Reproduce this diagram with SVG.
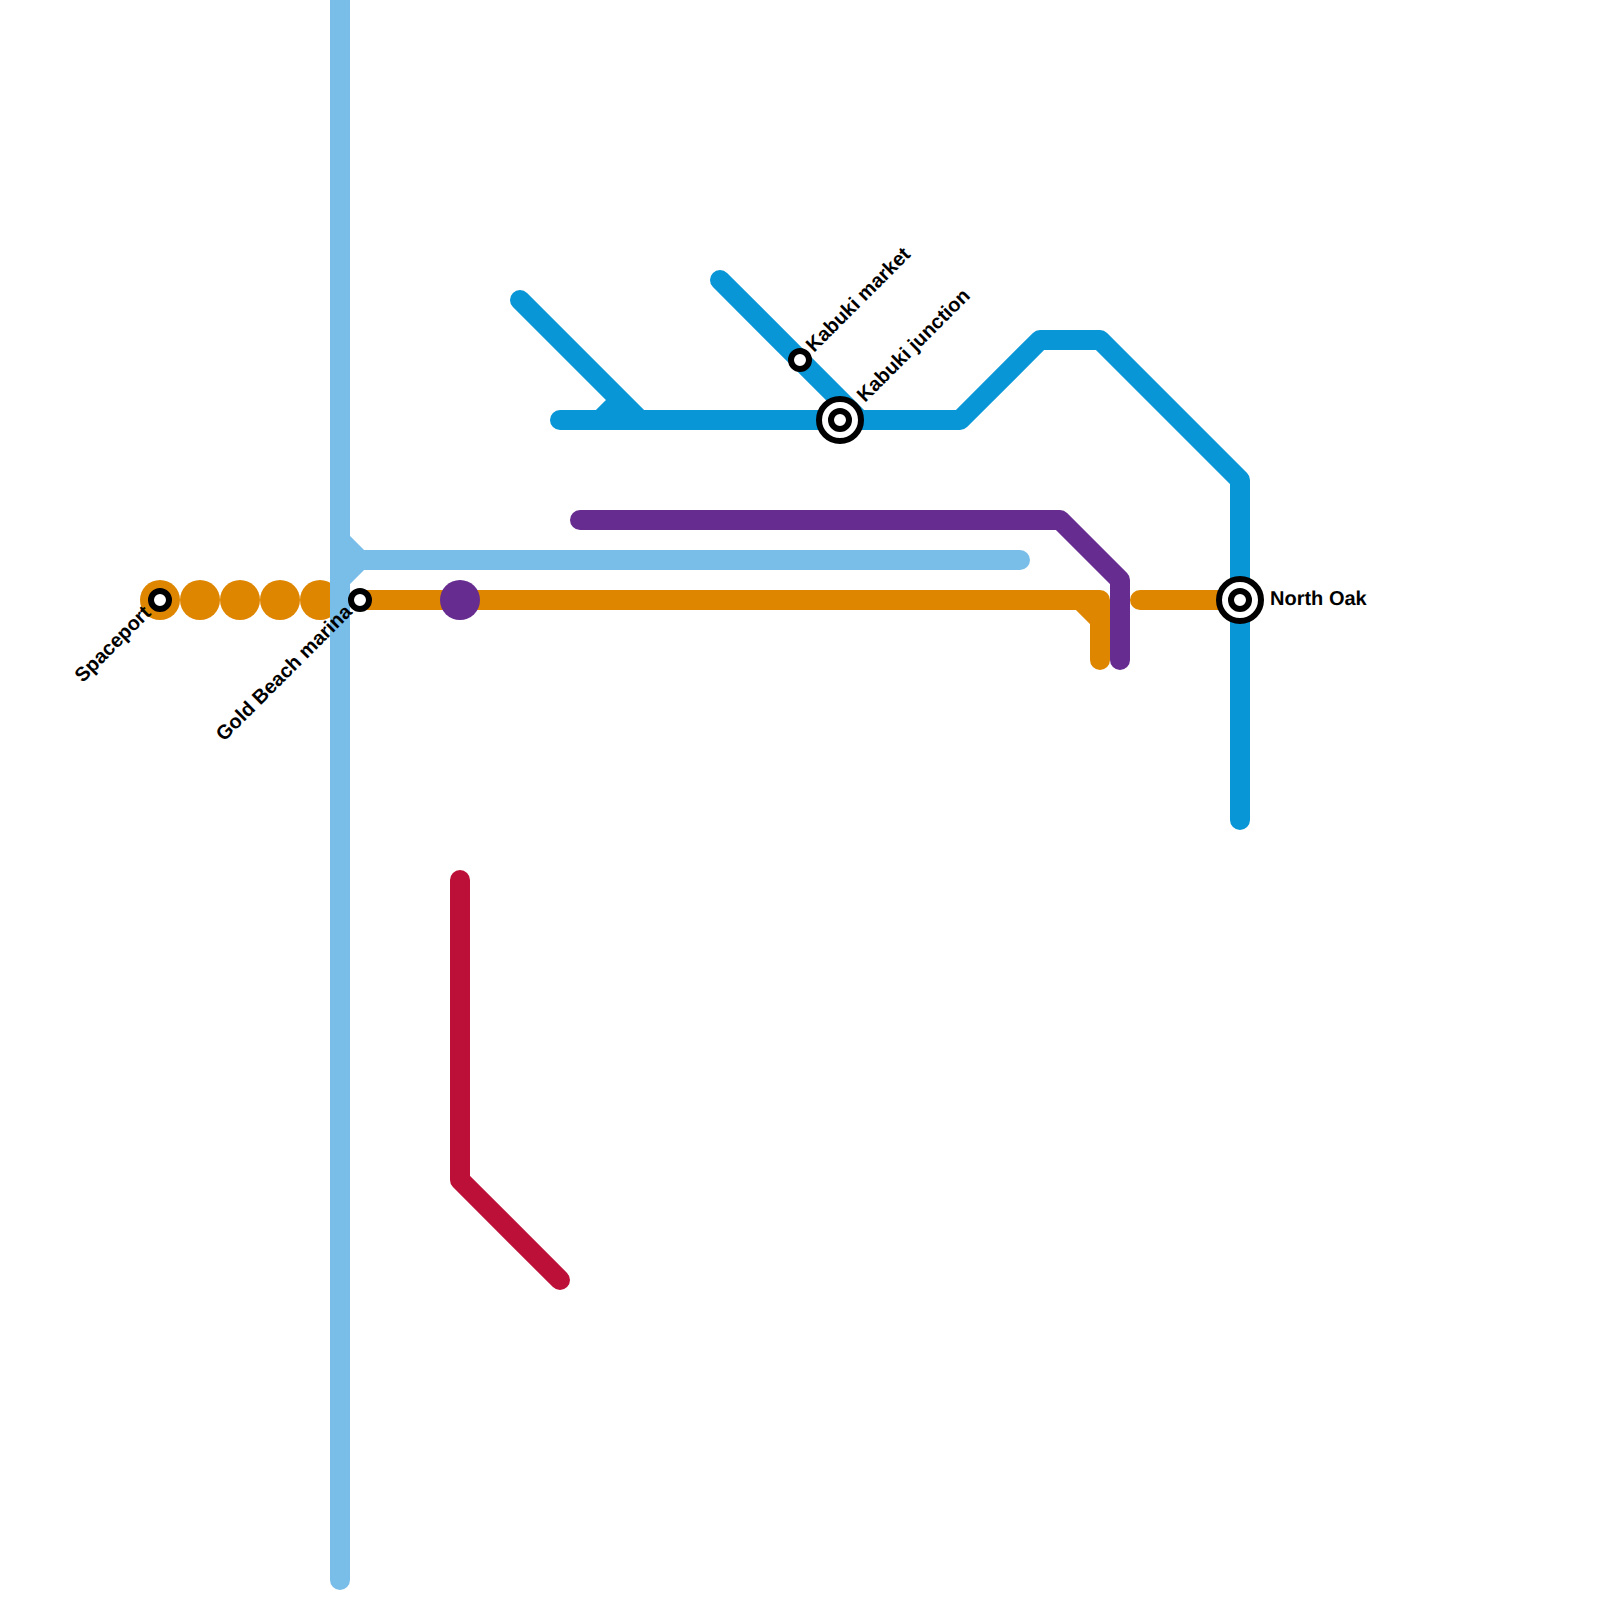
<svg xmlns="http://www.w3.org/2000/svg" width="1600" height="1600" viewBox="0 0 1600 1600">
<style>
.l{fill:none;stroke-width:20;stroke-linecap:round;stroke-linejoin:round}
.o{stroke:#df8600}.b{stroke:#0896d7}.c{stroke:#79bde9}.p{stroke:#662c90}.r{stroke:#bd1038}
.s{fill:#fff;stroke:#000;stroke-width:6}
.h{fill:#fff;stroke:#000;stroke-width:6}
.t{fill:#000;font-family:"Liberation Sans",Arial,sans-serif;font-weight:bold;font-size:20px;text-rendering:geometricPrecision}
</style>
<rect width="1600" height="1600" fill="#fff"/>
<g id="connectors">
<g fill="#df8600"><circle cx="160" cy="600" r="20"/><circle cx="200" cy="600" r="20"/><circle cx="240" cy="600" r="20"/><circle cx="280" cy="600" r="20"/><circle cx="320" cy="600" r="20"/></g>
<path class="l o" d="M360 600H1100V660M1080 600L1100 620M1140 600H1240"/>
<path class="l c" d="M340 0V1580M340 540L360 560M340 580L360 560M360 560H1020"/>
<path class="l b" d="M560 420H960L1040 340H1100L1240 480V820M520 300L640 420M600 420L620 400M720 280L860 420"/>
<path class="l p" d="M580 520H1060L1120 580V660"/>
<circle cx="460" cy="600" r="20" fill="#662c90"/>
<path class="l r" d="M460 880V1180L560 1280"/>
</g>
<g id="spaceport"><circle class="s" cx="160" cy="600" r="9"/><text class="t" text-anchor="end" transform="translate(152 614) rotate(-45)">Spaceport</text></g>
<g id="gold-beach-marina"><circle class="s" cx="360" cy="600" r="9"/><text class="t" text-anchor="end" transform="translate(353 613) rotate(-45)">Gold Beach marina</text></g>
<g id="kabuki-market"><circle class="s" cx="800" cy="360" r="9"/><text class="t" transform="translate(814 353) rotate(-45)">Kabuki market</text></g>
<g id="kabuki-junction"><circle class="h" cx="840" cy="420" r="21"/><circle class="s" cx="840" cy="420" r="9"/><text class="t" transform="translate(865 403) rotate(-45)">Kabuki junction</text></g>
<g id="north-oak"><circle class="h" cx="1240" cy="600" r="21"/><circle class="s" cx="1240" cy="600" r="9"/><text class="t" x="1270" y="605">North Oak</text></g>
</svg>
